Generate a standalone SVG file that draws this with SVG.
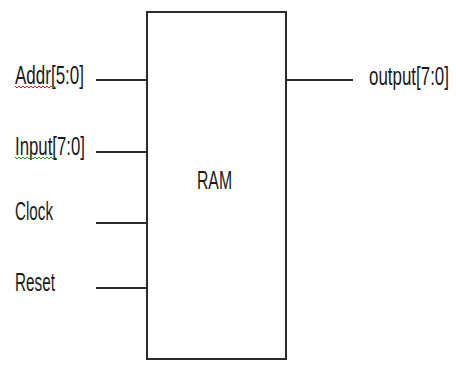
<svg xmlns="http://www.w3.org/2000/svg" width="456" height="365" viewBox="0 0 456 365">
<style>
.lbl{font-family:"Liberation Sans",Arial,sans-serif;font-size:25px;fill:#1a1a1a}
.wire{stroke:#2b2b2b;stroke-width:2;fill:none}
.box{stroke:#2b2b2b;stroke-width:2;fill:#fff}
.squig{fill:none;stroke-width:1}
</style>
<rect width="456" height="365" fill="#fff"/>
<g id="ram">
<rect class="box" x="147" y="12" width="139" height="347"/>
<text class="lbl" x="197" y="189" textLength="35" lengthAdjust="spacingAndGlyphs">RAM</text>
</g>
<g id="addr">
<text class="lbl" x="15" y="84" textLength="69" lengthAdjust="spacingAndGlyphs">Addr[5:0]</text>
<path class="squig" stroke="#e02020" d="M15 86 l2 2 l2 -2 l2 2 l2 -2 l2 2 l2 -2 l2 2 l2 -2 l2 2 l2 -2 l2 2 l2 -2 l2 2 l2 -2 l2 2 l2 -2 l2 2 l2 -2"/>
<path class="squig" stroke="#20a020" d="M51 86 l2 2 l2 -2"/>
</g>
<g id="input">
<text class="lbl" x="15" y="155" textLength="70" lengthAdjust="spacingAndGlyphs">Input[7:0]</text>
<path class="squig" stroke="#20a020" d="M15 157 l2 2 l2 -2 l2 2 l2 -2 l2 2 l2 -2 l2 2 l2 -2 l2 2 l2 -2 l2 2 l2 -2 l2 2 l2 -2 l2 2 l2 -2 l2 2 l2 -2 l2 2 l2 -2 l2 2"/>
</g>
<g id="clock">
<text class="lbl" x="15" y="220" textLength="38" lengthAdjust="spacingAndGlyphs">Clock</text>
</g>
<g id="reset">
<text class="lbl" x="15" y="291" textLength="40" lengthAdjust="spacingAndGlyphs">Reset</text>
</g>
<g id="output">
<text class="lbl" transform="matrix(0.68 0 0 1 369 85)" x="0" y="0" textLength="117.6" lengthAdjust="spacingAndGlyphs">output[7:0]</text>
</g>
<g id="connectors">
<line class="wire" x1="96" y1="80" x2="147" y2="80"/>
<line class="wire" x1="96" y1="152" x2="147" y2="152"/>
<line class="wire" x1="96" y1="223" x2="147" y2="223"/>
<line class="wire" x1="96" y1="288" x2="147" y2="288"/>
<line class="wire" x1="286" y1="80" x2="353" y2="80"/>
</g>
</svg>
